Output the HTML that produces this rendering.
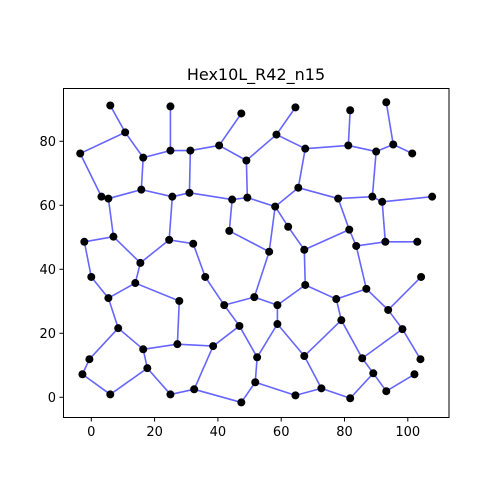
<!DOCTYPE html>
<html><head><meta charset="utf-8"><style>
html,body{margin:0;padding:0;background:#fff;}
svg{display:block;font-family:"DejaVu Sans","Liberation Sans",sans-serif;}
</style></head><body>
<svg id="chart" width="500" height="500" viewBox="0 0 500 500" xmlns="http://www.w3.org/2000/svg">
<rect width="500" height="500" fill="#fff"/>
<text x="256" y="80" text-anchor="middle" font-size="16" fill="#000">Hex10L_R42_n15</text>
<g id="edges"></g>
<g id="nodes"></g>
<rect x="63.5" y="88.5" width="385.5" height="329" fill="none" stroke="#000" stroke-width="1"/>
<g id="ticks"></g>
</svg>
<script>
const nodeIds = ["A","B","C","D","E","F","G","H","I","J","K","L","M","N","O","P","Q","R","S","T","U","V","W","a","b","c","d","e","f","g","h","i","j","k","l","m","n","p","q","r","s","t","u","v","w","X1","X2","X3","X4","X5","X6","X7","X8","X9","X10","X11","X12","X13","X14","X15","X16","X17","X18","X19","X20","X21","Y1","Y2","Y3","Y5","Y6","Y7","Y8","Y9","Y10","Y12","Y13","Y14","Y15","Y16","Y18","Y19","Y20","Y21"];
const nodeX = [6.0,10.7,-3.5,16.4,25.0,25.0,31.3,40.4,47.4,49.0,3.2,5.4,15.8,25.6,31.0,44.5,49.3,-2.2,7.0,24.6,32.2,43.6,15.5,64.5,58.5,67.6,81.8,81.2,90.0,93.2,95.4,101.4,65.4,78.0,88.8,91.9,107.7,58.1,62.2,56.2,67.3,81.5,83.7,92.9,103.0,0,13.9,5.4,36.0,27.8,42.0,51.5,8.5,46.8,16.4,27.2,38.5,-0.6,17.7,52.4,-2.8,6.0,25.0,32.5,47.4,51.8,67.6,86.9,104.2,58.8,77.4,93.8,58.8,79.0,98.3,67.3,85.6,104.0,89.1,102.1,64.5,72.7,81.8,93.2];
const nodeY = [91.2,82.8,76.2,74.9,90.9,77.1,77.1,78.7,88.7,74.0,62.7,62.1,64.9,62.7,63.9,61.8,62.4,48.6,50.2,49.2,48.0,52.0,42.0,90.6,82.1,77.7,89.7,78.7,76.8,92.2,79.0,76.2,65.5,62.1,62.7,61.1,62.7,59.6,53.3,45.5,46.1,52.4,47.3,48.6,48.6,37.6,35.7,31.0,37.6,30.1,28.8,31.3,21.6,22.3,15.0,16.6,16.0,11.9,9.1,12.5,7.2,0.9,0.9,2.5,-1.6,4.7,35.1,33.9,37.6,28.8,30.7,27.3,22.9,24.1,21.3,12.9,12.2,11.9,7.5,7.2,0.6,2.8,-0.3,1.9];
const edgeFrom = ["A","B","B","C","D","D","E","F","G","G","H","H","J","J","K","L","L","M","N","N","O","P","P","R","S","T","T","U","V","R","Q","a","b","c","c","d","e","f","g","h","f","j","j","k","l","m","k","m","v","t","u","p","p","q","t","r","s","u","W","X1","X3","X2","X3","X5","X4","X6","X6","X8","X8","X10","X10","X11","X12","X12","X13","X16","X17","X14","X18","X19","X20","X21","X15","X15","X7","Y1","Y1","Y5","Y6","Y6","Y2","Y7","Y7","Y9","Y9","Y8","Y10","Y10","Y13","Y15","Y15","Y21","Y12","Y19","Y19","Y18"];
const edgeTo = ["B","C","D","K","F","M","F","G","H","O","I","J","Q","b","L","M","S","N","O","T","P","Q","V","S","W","U","W","X4","r","X1","p","b","c","e","j","e","f","h","h","i","l","k","p","l","m","n","t","v","w","u","v","q","r","s","s","X7","Y1","Y2","X2","X3","X2","X5","X8","X11","X6","X9","X7","X10","X13","X11","X14","X12","X9","X19","X16","X17","X14","X18","X19","X20","X21","X15","X9","Y8","Y5","Y5","Y6","Y8","Y2","Y9","Y7","Y3","Y10","Y13","Y12","Y12","Y13","Y14","Y15","Y20","Y21","Y16","Y19","Y18","Y20","X21"];
const xTicks = [0,20,40,60,80,100];
const yTicks = [0,20,40,60,80];

const NS = "http://www.w3.org/2000/svg";
function sx(v){ return 91.3 + v*3.165; }
function sy(v){ return 397.3 - v*3.2; }
const idx = {};
nodeIds.forEach((id,i)=>{ idx[id]=i; });
const eg = document.getElementById('edges');
for (let k=0;k<edgeFrom.length;k++){
  const a = idx[edgeFrom[k]], b = idx[edgeTo[k]];
  const l = document.createElementNS(NS,'line');
  l.setAttribute('x1', sx(nodeX[a])); l.setAttribute('y1', sy(nodeY[a]));
  l.setAttribute('x2', sx(nodeX[b])); l.setAttribute('y2', sy(nodeY[b]));
  l.setAttribute('stroke', '#6666ff'); l.setAttribute('stroke-width', '1.6');
  
  
  eg.appendChild(l);
}
const ng = document.getElementById('nodes');
for (let i=0;i<nodeIds.length;i++){
  const c = document.createElementNS(NS,'circle');
  c.setAttribute('cx', sx(nodeX[i])); c.setAttribute('cy', sy(nodeY[i]));
  c.setAttribute('r', '4'); c.setAttribute('fill', '#000');
  
  
  ng.appendChild(c);
}
const tg = document.getElementById('ticks');
xTicks.forEach(t=>{
  const x = sx(t);
  const l = document.createElementNS(NS,'line');
  l.setAttribute('x1', x); l.setAttribute('x2', x); l.setAttribute('y1', 417.5); l.setAttribute('y2', 421.5);
  l.setAttribute('stroke', '#000');
  
  
  tg.appendChild(l);
  const tx = document.createElementNS(NS,'text');
  tx.setAttribute('x', x); tx.setAttribute('y', 436); tx.setAttribute('text-anchor','middle');
  tx.setAttribute('font-size','13'); tx.textContent = t;
  
  
  tg.appendChild(tx);
});
yTicks.forEach(t=>{
  const y = sy(t);
  const l = document.createElementNS(NS,'line');
  l.setAttribute('x1', 59.5); l.setAttribute('x2', 63.5); l.setAttribute('y1', y); l.setAttribute('y2', y);
  l.setAttribute('stroke', '#000');
  
  
  tg.appendChild(l);
  const tx = document.createElementNS(NS,'text');
  tx.setAttribute('x', 56); tx.setAttribute('y', y+4.5); tx.setAttribute('text-anchor','end');
  tx.setAttribute('font-size','13'); tx.textContent = t;
  
  
  tg.appendChild(tx);
});
</script>
</body></html>
